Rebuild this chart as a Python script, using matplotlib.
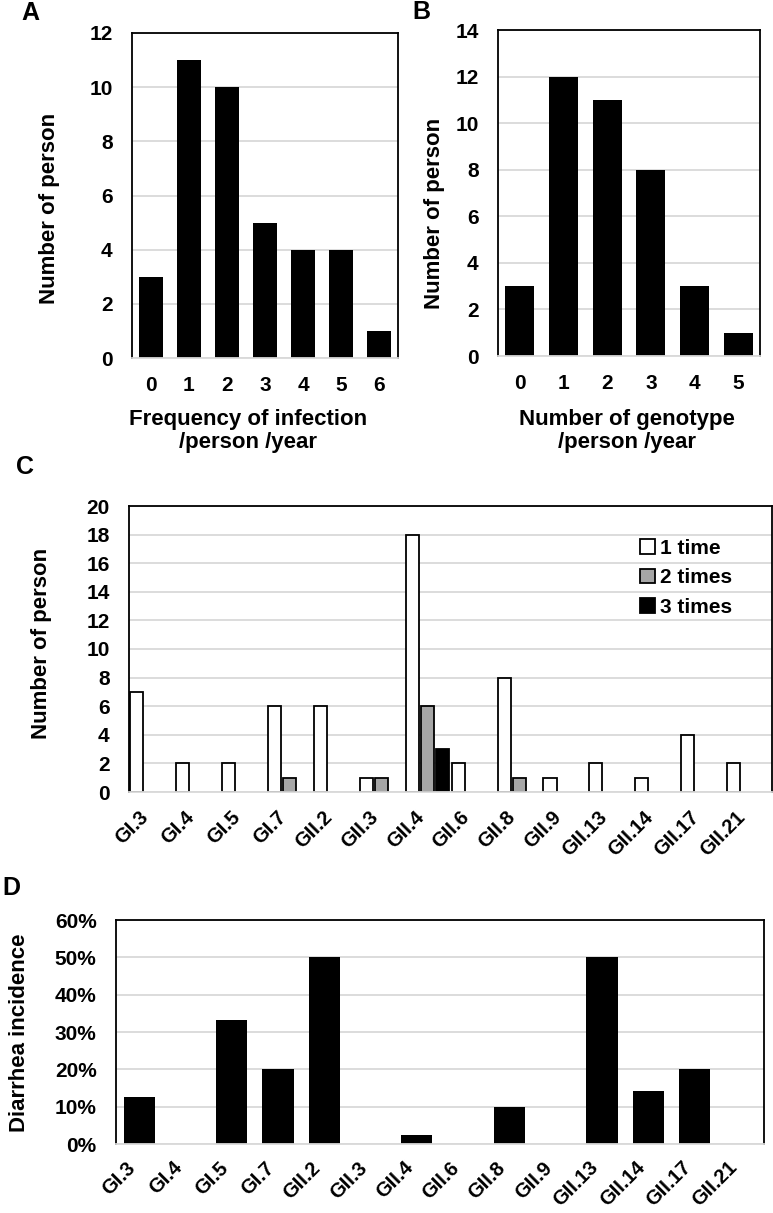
import matplotlib
matplotlib.use("Agg")
import matplotlib.pyplot as plt
from matplotlib.ticker import PercentFormatter

plt.rcParams["font.family"] = ["Liberation Sans", "DejaVu Sans"]
plt.rcParams["font.weight"] = "bold"

# panel A: frequency of infection
freq_cats = ["0", "1", "2", "3", "4", "5", "6"]
freq_counts = [3, 11, 10, 5, 4, 4, 1]

# panel B: number of genotype
geno_cats = ["0", "1", "2", "3", "4", "5"]
geno_counts = [3, 12, 11, 8, 3, 1]

# panels C and D: genotypes
genotypes = ["GI.3", "GI.4", "GI.5", "GI.7", "GII.2", "GII.3", "GII.4",
             "GII.6", "GII.8", "GII.9", "GII.13", "GII.14", "GII.17", "GII.21"]
once = [7, 2, 2, 6, 6, 1, 18, 2, 8, 1, 2, 1, 4, 2]
twice = [0, 0, 0, 1, 0, 1, 6, 0, 1, 0, 0, 0, 0, 0]
thrice = [0, 0, 0, 0, 0, 0, 3, 0, 0, 0, 0, 0, 0, 0]
diarrhea = [0.125, 0, 0.333, 0.20, 0.50, 0, 0.025, 0, 0.10, 0, 0.50, 0.143, 0.20, 0]

W, H = 773, 1213
GRID = "#d9d9d9"
TICK_FS = 15
LABEL_FS = 16


def box(px_left, px_top, px_right, px_bottom):
    return [px_left / W, 1 - px_bottom / H, (px_right - px_left) / W, (px_bottom - px_top) / H]


def style(ax, ymax, ystep, xfs=TICK_FS, xpad=13):
    ax.set_ylim(0, ymax)
    ax.set_yticks([i * ystep for i in range(int(round(ymax / ystep)) + 1)])
    ax.yaxis.grid(True, color=GRID, linewidth=1.3)
    ax.set_axisbelow(True)
    for side in ("left", "top", "right"):
        ax.spines[side].set_color("black")
        ax.spines[side].set_linewidth(1.3)
    ax.spines["bottom"].set_color(GRID)
    ax.spines["bottom"].set_linewidth(1.3)
    ax.tick_params(axis="both", length=0)
    ax.tick_params(axis="y", pad=14, labelsize=TICK_FS)
    ax.tick_params(axis="x", pad=xpad, labelsize=xfs)


fig = plt.figure(figsize=(W / 100, H / 100), dpi=100)

# ---- A
axA = fig.add_axes(box(132, 33, 398, 358))
axA.bar(range(len(freq_cats)), freq_counts, width=0.65, color="black")
axA.set_xlim(-0.5, len(freq_cats) - 0.5)
axA.set_xticks(range(len(freq_cats)), freq_cats)
style(axA, 12, 2)
fig.text(248 / W, 1 - 431 / H, "Frequency of infection\n/person /year", ha="center", va="center",
         fontsize=LABEL_FS, linespacing=1.15)
fig.text(50 / W, 1 - 208 / H, "Number of person", rotation=90, ha="center", va="center",
         fontsize=LABEL_FS)
fig.text(30 / W, 1 - 13 / H, "A", ha="center", va="center", fontsize=18)

# ---- B
axB = fig.add_axes(box(498, 30, 760, 356))
axB.bar(range(len(geno_cats)), geno_counts, width=0.67, color="black")
axB.set_xlim(-0.5, len(geno_cats) - 0.5)
axB.set_xticks(range(len(geno_cats)), geno_cats)
style(axB, 14, 2)
fig.text(627 / W, 1 - 431 / H, "Number of genotype\n/person /year", ha="center", va="center",
         fontsize=LABEL_FS, linespacing=1.15)
fig.text(435 / W, 1 - 213 / H, "Number of person", rotation=90, ha="center", va="center",
         fontsize=LABEL_FS)
fig.text(421 / W, 1 - 12 / H, "B", ha="center", va="center", fontsize=18)

# ---- C
axC = fig.add_axes(box(129, 506, 772, 792))
series = [("1 time", once, "white", -1 / 3), ("2 times", twice, "#a6a6a6", 0),
          ("3 times", thrice, "black", 1 / 3)]
for name, vals, col, off in series:
    xs = [i + off for i, v in enumerate(vals) if v > 0]
    hs = [v for v in vals if v > 0]
    axC.bar(xs, hs, width=0.285, color=col, edgecolor="black", linewidth=1.3, label=name)
axC.set_xlim(-0.5, len(genotypes) - 0.5)
axC.set_xticks(range(len(genotypes)), genotypes, rotation=45, ha="right", rotation_mode="default")
style(axC, 20, 2, xfs=14.5, xpad=11)
axC.legend(loc="upper left", bbox_to_anchor=(0.795, 0.885), frameon=False, fontsize=15,
           borderaxespad=0, borderpad=0, handlelength=0.7, handleheight=0.7,
           handletextpad=0.25, labelspacing=0.5)
fig.text(42 / W, 1 - 643 / H, "Number of person", rotation=90, ha="center", va="center",
         fontsize=LABEL_FS)
fig.text(25 / W, 1 - 467 / H, "C", ha="center", va="center", fontsize=18)

# ---- D
axD = fig.add_axes(box(116, 920, 764, 1144))
axD.bar(range(len(genotypes)), diarrhea, width=0.67, color="black")
axD.set_xlim(-0.5, len(genotypes) - 0.5)
axD.set_xticks(range(len(genotypes)), genotypes, rotation=45, ha="right", rotation_mode="default")
style(axD, 0.6, 0.1, xfs=14.5, xpad=10)
axD.yaxis.set_major_formatter(PercentFormatter(1.0, decimals=0))
fig.text(20 / W, 1 - 1033 / H, "Diarrhea incidence", rotation=90, ha="center", va="center",
         fontsize=LABEL_FS)
fig.text(11 / W, 1 - 888 / H, "D", ha="center", va="center", fontsize=18)

fig.savefig("out.png", dpi=100)
